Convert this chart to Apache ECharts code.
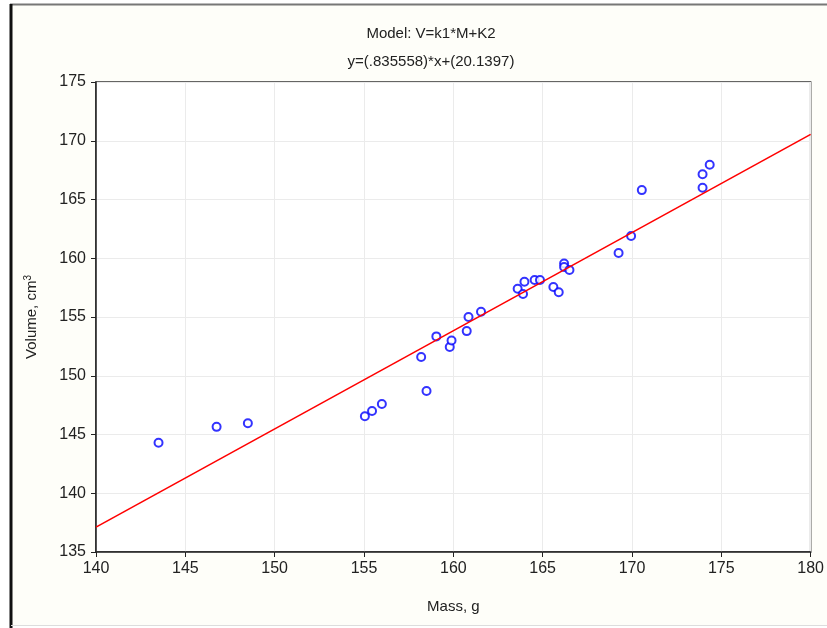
<!DOCTYPE html>
<html>
<head>
<meta charset="utf-8">
<script src="https://cdn.jsdelivr.net/npm/echarts@6/dist/echarts.min.js"></script>
<style>
  html, body { margin: 0; padding: 0; background: #fff; }
  #main { width: 827px; height: 628px; }
</style>
</head>
<body>
<div id="main"></div>
<script>
// mass (g) of each sample
var mass = [143.5, 146.75, 148.5, 155.05, 155.45, 156.0, 158.5, 158.2, 159.8, 159.9,
  159.05, 160.75, 160.85, 161.55, 163.6, 163.9, 163.98, 164.55, 164.85, 165.6,
  165.9, 166.2, 166.2, 166.5, 169.25, 169.95, 170.55, 173.95, 173.95, 174.35];
// volume (cm3) of each sample
var volume = [144.3, 145.65, 145.95, 146.55, 147.0, 147.6, 148.7, 151.6, 152.45, 153.0,
  153.35, 153.8, 155.0, 155.45, 157.4, 156.95, 158.0, 158.15, 158.15, 157.55,
  157.1, 159.55, 159.25, 159.0, 160.45, 161.9, 165.8, 167.15, 166.0, 167.95];

var xTicks = [140, 145, 150, 155, 160, 165, 170, 175, 180];
var yTicks = [135, 140, 145, 150, 155, 160, 165, 170, 175];

// model coefficients from the title
var k1 = 0.835558;
var k2 = 20.1397;

var points = mass.map(function (m, i) { return [m, volume[i]]; });
var xMin = xTicks[0], xMax = xTicks[xTicks.length - 1];
var fitLine = [[xMin, k1 * xMin + k2], [xMax, k1 * xMax + k2]];

var chart = echarts.init(document.getElementById('main'));
var font = '"Liberation Sans", Arial, sans-serif';

var option = {
  animation: false,
  backgroundColor: '#fff',
  textStyle: { fontFamily: font },
  graphic: [
    { type: 'rect', z: -10, shape: { x: 11, y: 5, width: 830, height: 620 },
      style: { fill: '#fefef9' } },
    { type: 'line', z: -9, shape: { x1: 10, y1: 4.5, x2: 827, y2: 4.5 },
      style: { stroke: '#777', lineWidth: 2 } },
    { type: 'line', z: -9, shape: { x1: 11, y1: 4, x2: 11, y2: 628 },
      style: { stroke: '#111', lineWidth: 3 } },
    { type: 'line', z: -9, shape: { x1: 11, y1: 625.5, x2: 827, y2: 625.5 },
      style: { stroke: '#ddd', lineWidth: 1 } }
  ],
  title: [
    { text: 'Model: V=k1*M+K2', left: 426, top: 21, textAlign: 'center',
      textStyle: { fontSize: 15, fontWeight: 'normal', color: '#222', fontFamily: font } },
    { text: 'y=(.835558)*x+(20.1397)', left: 426, top: 49, textAlign: 'center',
      textStyle: { fontSize: 15, fontWeight: 'normal', color: '#222', fontFamily: font } }
  ],
  grid: {
    left: 96, right: 11, top: 82, bottom: 76,
    show: true, backgroundColor: '#fff', borderColor: '#333', borderWidth: 1.5
  },
  xAxis: {
    type: 'value', min: xMin, max: xMax, interval: 5,
    name: 'Mass, g', nameLocation: 'middle', nameGap: 47,
    nameTextStyle: { fontSize: 15, color: '#222' },
    axisLine: { show: true, lineStyle: { color: '#222', width: 1.5 } },
    axisTick: { show: true, length: 5, lineStyle: { color: '#222' } },
    axisLabel: { fontSize: 16, color: '#222', margin: 9 },
    splitLine: { show: true, lineStyle: { color: '#ebebeb', width: 1 } }
  },
  yAxis: {
    type: 'value', min: yTicks[0], max: yTicks[yTicks.length - 1], interval: 5,
    name: 'Volume, cm{sup|3}', nameLocation: 'middle', nameGap: 55,
    nameTextStyle: { fontSize: 15, color: '#222',
      rich: { sup: { fontSize: 10, verticalAlign: 'top', padding: [0, 0, 8, 0], color: '#222' } } },
    axisLine: { show: true, lineStyle: { color: '#222', width: 1.5 } },
    axisTick: { show: true, length: 5, lineStyle: { color: '#222' } },
    axisLabel: { fontSize: 16, color: '#222', margin: 10 },
    splitLine: { show: true, lineStyle: { color: '#ebebeb', width: 1 } }
  },
  series: [
    {
      type: 'line', data: fitLine, symbol: 'none', silent: true,
      lineStyle: { color: '#ff0000', width: 1.6 }
    },
    {
      type: 'scatter', data: points, symbol: 'emptyCircle', symbolSize: 8,
      itemStyle: { color: '#0000ff', borderColor: '#0000ff', borderWidth: 2 }
    }
  ]
};
chart.setOption(option);
</script>
</body>
</html>
